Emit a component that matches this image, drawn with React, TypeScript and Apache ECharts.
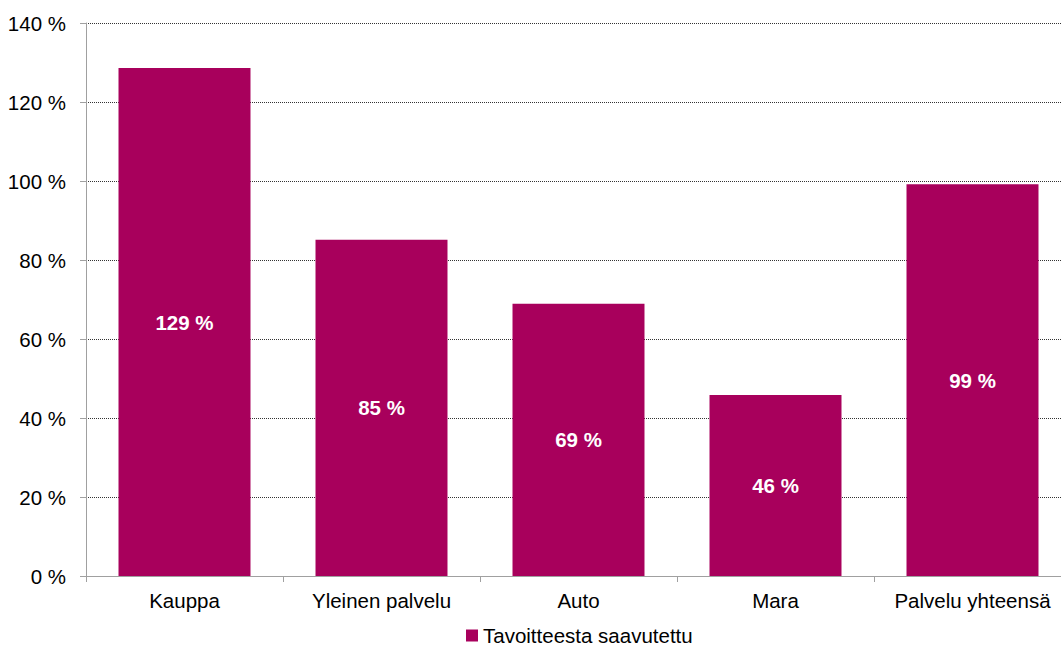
import React, { useEffect, useRef } from "react";
import * as echarts from "echarts";

const categories = ["Kauppa", "Yleinen palvelu", "Auto", "Mara", "Palvelu yhteensä"];
const values = [128.6, 85.1, 68.9, 45.8, 99.2];
const seriesName = "Tavoitteesta saavutettu";

export default function App() {
  const ref = useRef<HTMLDivElement>(null);
  useEffect(() => {
    document.body.style.margin = "0";
    document.body.style.overflow = "hidden";
    const chart = echarts.init(ref.current!, null, { renderer: "svg" });
    const font = "'Liberation Sans', Arial, sans-serif";
    chart.setOption({
      animation: false,
      textStyle: { fontFamily: font },
      grid: { left: 86, right: 0, top: 23, bottom: 72, containLabel: false },
      legend: {
        show: true,
        left: 466,
        top: 625,
        itemWidth: 12,
        itemHeight: 12,
        itemGap: 4,
        icon: "rect",
        textStyle: { fontFamily: font, fontSize: 20.5, color: "#000", padding: [0, 0, 0, 0] },
        padding: 0,
        data: [seriesName],
      },
      xAxis: {
        type: "category",
        data: categories,
        axisLine: { show: true, lineStyle: { color: "#a0a0a0", width: 1 } },
        axisTick: { show: true, interval: 0, length: 6, alignWithLabel: false, lineStyle: { color: "#a0a0a0" } },
        axisLabel: { interval: 0, hideOverlap: false, color: "#000", fontSize: 20.5, fontFamily: font, margin: 14 },
      },
      yAxis: {
        type: "value",
        min: 0,
        max: 140,
        interval: 20,
        axisLine: { show: true, lineStyle: { color: "#a0a0a0", width: 1 } },
        axisTick: { show: true, length: 6, lineStyle: { color: "#a0a0a0" } },
        axisLabel: { color: "#000", fontSize: 20.5, fontFamily: font, margin: 20, formatter: "{value} %" },
        splitLine: { show: true, lineStyle: { color: "#333", width: 1, type: [1, 1] } },
      },
      series: [
        {
          name: seriesName,
          type: "bar",
          data: values,
          barCategoryGap: "33%",
          itemStyle: { color: "#a8005c" },
          label: {
            show: true,
            position: "inside",
            color: "#fff",
            fontWeight: "bold",
            fontSize: 20.5,
            fontFamily: font,
            formatter: (p: any) => Math.round(p.value) + " %",
          },
        },
      ],
    });
    return () => chart.dispose();
  }, []);
  return <div ref={ref} style={{ width: 1071, height: 648 }} />;
}
